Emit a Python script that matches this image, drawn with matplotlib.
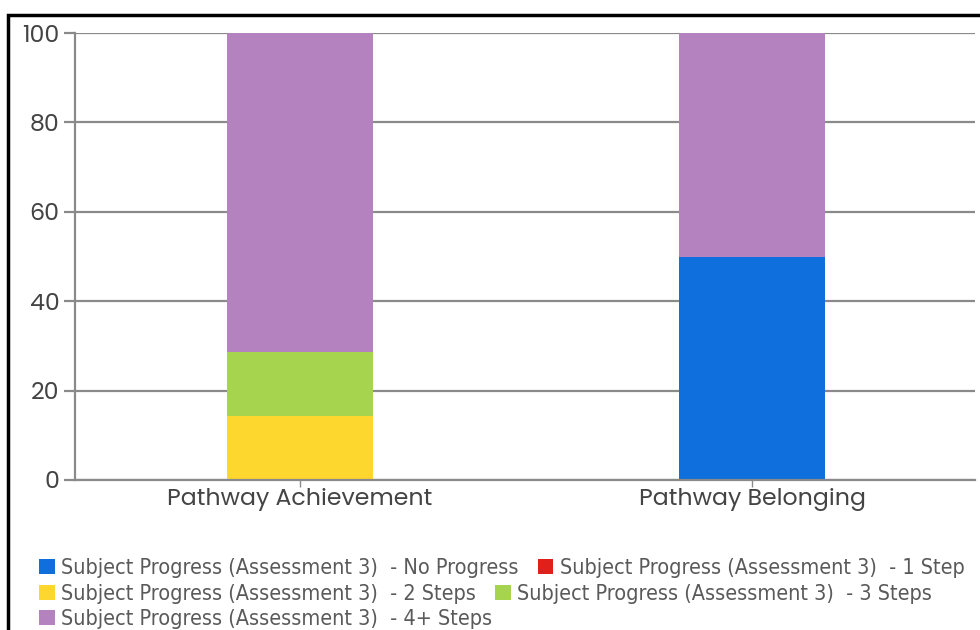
import matplotlib
matplotlib.use("Agg")
import matplotlib.pyplot as plt
from matplotlib.patches import Rectangle, Patch

categories = ["Pathway Achievement", "Pathway Belonging"]
series_names = [
    "Subject Progress (Assessment 3)  - No Progress",
    "Subject Progress (Assessment 3)  - 1 Step",
    "Subject Progress (Assessment 3)  - 2 Steps",
    "Subject Progress (Assessment 3)  - 3 Steps",
    "Subject Progress (Assessment 3)  - 4+ Steps",
]
no_progress = [0, 50]
one_step = [0, 0]
two_steps = [14.29, 0]
three_steps = [14.29, 0]
four_plus = [71.42, 50]
yticks = [0, 20, 40, 60, 80, 100]

colors = ["#0E6FDD", "#E0201B", "#FDD62E", "#A6D44E", "#B482BE"]
values = [no_progress, one_step, two_steps, three_steps, four_plus]

fig = plt.figure(figsize=(9.8, 6.3), dpi=100)
ax = fig.add_axes([75/980, 1-480/630, 900/980, 447/630])

x = list(range(len(categories)))
bottom = [0]*len(categories)
handles = []
for name, vals, c in zip(series_names, values, colors):
    ax.bar(x, vals, width=0.323, bottom=bottom, color=c, zorder=3)
    bottom = [b+v for b, v in zip(bottom, vals)]
    handles.append(Patch(facecolor=c, label=name))

ax.set_xlim(-0.498, 1.493)
ax.set_ylim(0, 100)
ax.set_yticks(yticks)
ax.set_xticks(x)
ax.set_xticklabels(categories)
ax.yaxis.grid(True, color="#8a8a8a", linewidth=1.6, zorder=1)
for s in ["top", "right", "bottom"]:
    ax.spines[s].set_visible(False)
ax.spines["left"].set_color("#8a8a8a")
ax.spines["left"].set_linewidth(1.6)
ax.axhline(0, color="#8a8a8a", linewidth=1.6, zorder=4, clip_on=False)
ax.tick_params(axis="y", length=8, width=1.6, color="#8a8a8a", labelsize=17, labelcolor="#444444", pad=3)
ax.tick_params(axis="x", length=5, width=1, color="#8a8a8a", labelsize=17, labelcolor="#444444", pad=1)
for lab in ax.get_xticklabels() + ax.get_yticklabels():
    lab.set_fontfamily(["Poppins", "DejaVu Sans"])

rows = [[0, 1], [2, 3], [4]]
row_y = [568, 594, 619]
for r, yy in zip(rows, row_y):
    leg = fig.legend(handles=[handles[i] for i in r], loc="center left",
                     bbox_to_anchor=(39/980, 1-yy/630), ncol=len(r), frameon=False,
                     prop={"family": "DejaVu Sans", "stretch": "condensed", "size": 15.5},
                     handlelength=0.72, handleheight=0.72,
                     handletextpad=0.3, columnspacing=0.9, borderpad=0, borderaxespad=0)
    for t in leg.get_texts():
        t.set_color("#5a5a5a")

fig.patches.append(Rectangle((8/980, -0.1), 1.2, 1-15/630+0.1, transform=fig.transFigure,
                             fill=False, edgecolor="black", linewidth=2.5))

fig.savefig("out.png", dpi=100)
